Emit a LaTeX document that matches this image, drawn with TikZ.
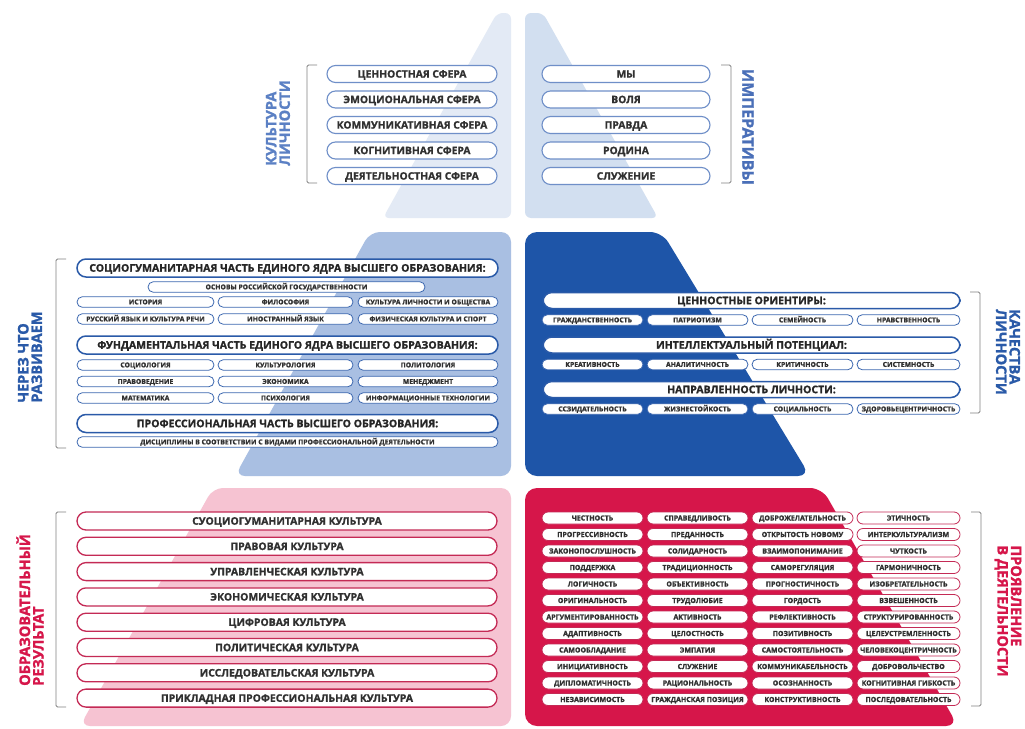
\documentclass[tikz,border=0pt]{standalone}
\usepackage{fontspec}
\setmainfont{Open Sans}[BoldFeatures={FakeBold=1.3}]
\usetikzlibrary{calc}
\definecolor{ce3eaf5}{RGB}{227,234,245}
\definecolor{cd2dff0}{RGB}{210,223,240}
\definecolor{ca9bfe2}{RGB}{169,191,226}
\definecolor{c1e55a8}{RGB}{30,85,168}
\definecolor{cf6c3d2}{RGB}{246,195,210}
\definecolor{cd6164a}{RGB}{214,22,74}
\definecolor{c6f8fc8}{RGB}{111,143,200}
\definecolor{c3d68b0}{RGB}{61,104,176}
\definecolor{c2a5aa8}{RGB}{42,90,168}
\definecolor{cc42a55}{RGB}{196,42,85}
\definecolor{c303030}{RGB}{48,48,48}
\definecolor{c808080}{RGB}{128,128,128}
\definecolor{c5b80c4}{RGB}{91,128,196}
\definecolor{c4a6fb8}{RGB}{74,111,184}

\tikzset{
  pill/.style={draw, fill=white, text=c303030, inner sep=0pt, text depth=0pt},
  pilltop/.style={pill, draw=c6f8fc8, line width=1.1pt, minimum height=17pt,
    rounded corners=8.5pt, text height=7.3pt,
    font=\fontsize{10.3}{12}\selectfont\bfseries},
  headblue/.style={pill, draw=c2a5aa8, line width=1.5pt, minimum height=18pt,
    rounded corners=9pt, text height=7.4pt, text=black!85,
    font=\fontsize{10.5}{12}\selectfont\bfseries},
  subblue/.style={pill, draw=c3d68b0, line width=0.8pt, minimum height=10.5pt,
    rounded corners=5.25pt, text height=4.8pt,
    font=\fontsize{6.8}{8}\selectfont\bfseries},
  pillred/.style={pill, draw=cc42a55, line width=1.3pt, minimum height=18pt,
    minimum width=420pt, rounded corners=9pt, text height=7.4pt,
    font=\fontsize{10.4}{12}\selectfont\bfseries},
  subred/.style={pill, draw=cc42a55, line width=0.8pt, minimum height=12pt,
    rounded corners=6pt, text height=5pt,
    font=\fontsize{7}{8}\selectfont\bfseries},
  sidelabel/.style={align=left, font=\fontsize{14.5}{13.5}\selectfont\bfseries},
  brace/.style={draw=c808080, line width=0.8pt, rounded corners=1.5pt}
}

\begin{document}
\begin{tikzpicture}[y=1pt,x=1pt,yscale=-1, inner sep=0pt, outer sep=0pt]
  \path[fill=white,use as bounding box] (0,0) rectangle (1025,728);

  % pyramid halves
  \path[fill=ce3eaf5,rounded corners=6pt] (497,13) -- (511,13) -- (511,218) --
    (383,218) -- cycle;
  \path[fill=cd2dff0,rounded corners=6pt] (525,13) -- (543,13) -- (658,218) --
    (525,218) -- cycle;
  \path[fill=ca9bfe2,rounded corners=10pt] (370,232) -- (511,232) -- (511,476) --
    (235,476) -- cycle;
  \path[fill=c1e55a8,rounded corners=12pt] (525,232) -- (662,232) -- (810,476) --
    (525,476) -- cycle;
  \path[fill=cf6c3d2,rounded corners=10pt] (213,488) -- (511,488) -- (511,726) --
    (80,726) -- cycle;
  \path[fill=cd6164a,rounded corners=12pt] (525,488) -- (822,488) -- (958,726) --
    (525,726) -- cycle;

  % brackets
  \path[brace] (317,65) -- (307,65) -- (307,183) -- (317,183);
  \path[brace] (721,65) -- (731,65) -- (731,183) -- (721,183);
  \path[brace] (66,259) -- (56,259) -- (56,448) -- (66,448);
  \path[brace] (970,292) -- (980,292) -- (980,413) -- (970,413);
  \path[brace] (66,512) -- (56,512) -- (56,707) -- (66,707);
  \path[brace] (971,512) -- (981,512) -- (981,706) -- (971,706);

  % side labels
  \path (278,123) node[sidelabel,rotate=90,text=c5b80c4] (lblkult)
    {КУЛЬТУРА\\ЛИЧНОСТИ};
  \path (748,127) node[sidelabel,rotate=-90,text=c4a6fb8,
    font=\fontsize{16}{14}\selectfont\bfseries] (lblimp) {ИМПЕРАТИВЫ};
  \path (30,357) node[sidelabel,rotate=90,text=c2a5aa8] (lblrazv)
    {ЧЕРЕЗ ЧТО\\РАЗВИВАЕМ};
  \path (1008,352) node[sidelabel,rotate=-90,text=c2a5aa8] (lblkach)
    {КАЧЕСТВА\\ЛИЧНОСТИ};
  \path (30,610) node[sidelabel,rotate=90,text=cd6164a] (lblrez)
    {ОБРАЗОВАТЕЛЬНЫЙ\\РЕЗУЛЬТАТ};
  \path (1008,611) node[sidelabel,rotate=-90,text=cd6164a] (lblproj)
    {ПРОЯВЛЕНИЕ\\В ДЕЯТЕЛЬНОСТИ};

  % top tier
  \foreach \t [count=\i] in {ЦЕННОСТНАЯ СФЕРА, ЭМОЦИОНАЛЬНАЯ СФЕРА,
      КОММУНИКАТИВНАЯ СФЕРА, КОГНИТИВНАЯ СФЕРА, ДЕЯТЕЛЬНОСТНАЯ СФЕРА}
    \path (412,{74+25.5*(\i-1)}) node[pilltop,minimum width=170pt] (sfera\i) {\t};
  \foreach \t [count=\i] in {МЫ, ВОЛЯ, ПРАВДА, РОДИНА, СЛУЖЕНИЕ}
    \path (626,{74+25.5*(\i-1)}) node[pilltop,minimum width=168pt] (imp\i) {\t};

  % middle tier, left
  \path (287.5,268) node[headblue,minimum width=421pt] (socgum)
    {СОЦИОГУМАНИТАРНАЯ ЧАСТЬ ЕДИНОГО ЯДРА ВЫСШЕГО ОБРАЗОВАНИЯ:};
  \path (286.5,287) node[subblue,minimum width=277pt] (osnovy)
    {ОСНОВЫ РОССИЙСКОЙ ГОСУДАРСТВЕННОСТИ};
  \path (145.5,302) node[subblue,minimum width=137pt] (ist) {ИСТОРИЯ};
  \path (285.5,302) node[subblue,minimum width=135pt] (filos) {ФИЛОСОФИЯ};
  \path (428,302) node[subblue,minimum width=140pt] (kultob)
    {КУЛЬТУРА ЛИЧНОСТИ И ОБЩЕСТВА};
  \path (145.5,319) node[subblue,minimum width=137pt] (rusyaz)
    {РУССКИЙ ЯЗЫК И КУЛЬТУРА РЕЧИ};
  \path (285.5,319) node[subblue,minimum width=135pt] (inyaz) {ИНОСТРАННЫЙ ЯЗЫК};
  \path (428,319) node[subblue,minimum width=140pt] (fizk)
    {ФИЗИЧЕСКАЯ КУЛЬТУРА И СПОРТ};

  \path (287.5,345) node[headblue,minimum width=421pt] (fund)
    {ФУНДАМЕНТАЛЬНАЯ ЧАСТЬ ЕДИНОГО ЯДРА ВЫСШЕГО ОБРАЗОВАНИЯ:};
  \path (145.5,365) node[subblue,minimum width=137pt] (socio) {СОЦИОЛОГИЯ};
  \path (285.5,365) node[subblue,minimum width=135pt] (kulturol) {КУЛЬТУРОЛОГИЯ};
  \path (428,365) node[subblue,minimum width=140pt] (polit) {ПОЛИТОЛОГИЯ};
  \path (145.5,381.5) node[subblue,minimum width=137pt] (pravo) {ПРАВОВЕДЕНИЕ};
  \path (285.5,381.5) node[subblue,minimum width=135pt] (ekon) {ЭКОНОМИКА};
  \path (428,381.5) node[subblue,minimum width=140pt] (menedzh) {МЕНЕДЖМЕНТ};
  \path (145.5,398) node[subblue,minimum width=137pt] (matem) {МАТЕМАТИКА};
  \path (285.5,398) node[subblue,minimum width=135pt] (psih) {ПСИХОЛОГИЯ};
  \path (428,398) node[subblue,minimum width=140pt] (inftech)
    {ИНФОРМАЦИОННЫЕ ТЕХНОЛОГИИ};

  \path (287.5,423.5) node[headblue,minimum width=421pt] (prof)
    {ПРОФЕССИОНАЛЬНАЯ ЧАСТЬ ВЫСШЕГО ОБРАЗОВАНИЯ:};
  \path (287.5,442) node[subblue,minimum width=421pt] (discip)
    {ДИСЦИПЛИНЫ В СООТВЕТСТВИИ С ВИДАМИ ПРОФЕССИОНАЛЬНОЙ ДЕЯТЕЛЬНОСТИ};

  % middle tier, right
  \path (751.5,300.5) node[headblue,minimum width=417pt,minimum height=16pt] (cennor)
    {ЦЕННОСТНЫЕ ОРИЕНТИРЫ:};
  \path (751.5,345) node[headblue,minimum width=417pt,minimum height=16pt] (intpot)
    {ИНТЕЛЛЕКТУАЛЬНЫЙ ПОТЕНЦИАЛ:};
  \path (751.5,389.5) node[headblue,minimum width=417pt,minimum height=16pt] (naprav)
    {НАПРАВЛЕННОСТЬ ЛИЧНОСТИ:};
  \foreach \a/\b/\c/\d [count=\r] in {
      ГРАЖДАНСТВЕННОСТЬ/ПАТРИОТИЗМ/СЕМЕЙНОСТЬ/НРАВСТВЕННОСТЬ,
      КРЕАТИВНОСТЬ/АНАЛИТИЧНОСТЬ/КРИТИЧНОСТЬ/СИСТЕМНОСТЬ,
      ССЗИДАТЕЛЬНОСТЬ/ЖИЗНЕСТОЙКОСТЬ/СОЦИАЛЬНОСТЬ/ЗДОРОВЬЕЦЕНТРИЧНОСТЬ}
  {
    \path (592.5,{320+44.5*(\r-1)}) node[subblue,minimum width=101pt] (kach\r a) {\a};
    \path (697.5,{320+44.5*(\r-1)}) node[subblue,minimum width=101pt] (kach\r b) {\b};
    \path (802.5,{320+44.5*(\r-1)}) node[subblue,minimum width=101pt] (kach\r c) {\c};
    \path (908.5,{320+44.5*(\r-1)}) node[subblue,minimum width=103pt] (kach\r d) {\d};
  }

  % bottom tier, left
  \foreach \t [count=\i] in {СУОЦИОГУМАНИТАРНАЯ КУЛЬТУРА, ПРАВОВАЯ КУЛЬТУРА,
      УПРАВЛЕНЧЕСКАЯ КУЛЬТУРА, ЭКОНОМИЧЕСКАЯ КУЛЬТУРА, ЦИФРОВАЯ КУЛЬТУРА,
      ПОЛИТИЧЕСКАЯ КУЛЬТУРА, ИССЛЕДОВАТЕЛЬСКАЯ КУЛЬТУРА,
      ПРИКЛАДНАЯ ПРОФЕССИОНАЛЬНАЯ КУЛЬТУРА}
    \path (287,{521+25.3*(\i-1)}) node[pillred] (kult\i) {\t};

  % bottom tier, right
  \foreach \t [count=\i] in {ЧЕСТНОСТЬ, ПРОГРЕССИВНОСТЬ, ЗАКОНОПОСЛУШНОСТЬ,
      ПОДДЕРЖКА, ЛОГИЧНОСТЬ, ОРИГИНАЛЬНОСТЬ, АРГУМЕНТИРОВАННОСТЬ, АДАПТИВНОСТЬ,
      САМООБЛАДАНИЕ, ИНИЦИАТИВНОСТЬ, ДИПЛОМАТИЧНОСТЬ, НЕЗАВИСИМОСТЬ}
    \path (592.5,{518+16.5*(\i-1)}) node[subred,minimum width=101pt] (proja\i) {\t};
  \foreach \t [count=\i] in {СПРАВЕДЛИВОСТЬ, ПРЕДАННОСТЬ, СОЛИДАРНОСТЬ,
      ТРАДИЦИОННОСТЬ, ОБЪЕКТИВНОСТЬ, ТРУДОЛЮБИЕ, АКТИВНОСТЬ, ЦЕЛОСТНОСТЬ,
      ЭМПАТИЯ, СЛУЖЕНИЕ, РАЦИОНАЛЬНОСТЬ, ГРАЖДАНСКАЯ ПОЗИЦИЯ}
    \path (697.5,{518+16.5*(\i-1)}) node[subred,minimum width=101pt] (projb\i) {\t};
  \foreach \t [count=\i] in {ДОБРОЖЕЛАТЕЛЬНОСТЬ, ОТКРЫТОСТЬ НОВОМУ,
      ВЗАИМОПОНИМАНИЕ, САМОРЕГУЛЯЦИЯ, ПРОГНОСТИЧНОСТЬ, ГОРДОСТЬ, РЕФЛЕКТИВНОСТЬ,
      ПОЗИТИВНОСТЬ, САМОСТОЯТЕЛЬНОСТЬ, КОММУНИКАБЕЛЬНОСТЬ, ОСОЗНАННОСТЬ,
      КОНСТРУКТИВНОСТЬ}
    \path (802.5,{518+16.5*(\i-1)}) node[subred,minimum width=101pt] (projc\i) {\t};
  \foreach \t [count=\i] in {ЭТИЧНОСТЬ, ИНТЕРКУЛЬТУРАЛИЗМ, ЧУТКОСТЬ,
      ГАРМОНИЧНОСТЬ, ИЗОБРЕТАТЕЛЬНОСТЬ, ВЗВЕШЕННОСТЬ, СТРУКТУРИРОВАННОСТЬ,
      ЦЕЛЕУСТРЕМЛЕННОСТЬ, ЧЕЛОВЕКОЦЕНТРИЧНОСТЬ, ДОБРОВОЛЬЧЕСТВО,
      КОГНИТИВНАЯ ГИБКОСТЬ, ПОСЛЕДОВАТЕЛЬНОСТЬ}
    \path (908.5,{518+16.5*(\i-1)}) node[subred,minimum width=103pt] (projd\i) {\t};
\end{tikzpicture}
\end{document}
